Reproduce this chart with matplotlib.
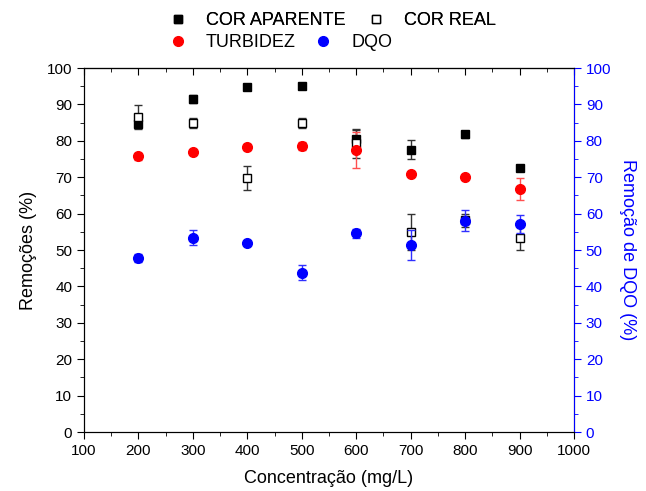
import numpy as np
import matplotlib.pyplot as plt
from matplotlib.ticker import MultipleLocator
from matplotlib.lines import Line2D

plt.rcParams['font.family'] = ['Liberation Sans', 'DejaVu Sans']

# dados
conc = [200, 300, 400, 500, 600, 700, 800, 900]
cor_aparente = [84.6, 91.5, 94.9, 95.0, 80.4, 77.6, 81.8, 72.6]
cor_aparente_err = [1.0, 1.0, 0.3, 0.3, 2.6, 2.7, 1.0, 0.3]
cor_real = [86.5, 84.9, 69.9, 84.9, 79.3, 54.9, 58.2, 53.3]
cor_real_err = [3.3, 1.4, 3.3, 1.4, 4.0, 5.0, 1.8, 3.3]
turbidez = [75.7, 77.0, 78.3, 78.6, 77.5, 70.8, 70.0, 66.8]
turbidez_err = [0.9, 0.3, 0.9, 1.0, 5.0, 0.3, 0.3, 3.0]
dqo = [47.8, 53.4, 51.9, 43.8, 54.6, 51.3, 58.0, 57.2]
dqo_err = [1.0, 2.0, 0.3, 2.0, 1.3, 4.1, 2.9, 2.5]

fig = plt.figure(figsize=(6.46, 4.91), dpi=100)
ax = fig.add_axes([0.130, 0.120, 0.7585, 0.7415])
ax2 = ax.twinx()

ax.errorbar(conc, cor_aparente, yerr=cor_aparente_err, fmt='s', color='black',
            ms=6, capsize=3, elinewidth=1, ecolor='#333333', zorder=3)
ax.errorbar(conc, cor_real, yerr=cor_real_err, fmt='s', mfc='white', mec='black',
            color='black', ms=6, capsize=3, elinewidth=1, ecolor='#333333', zorder=3)
ax.errorbar(conc, turbidez, yerr=turbidez_err, fmt='o', color='red', ms=7,
            capsize=3, elinewidth=1, ecolor='#ff5050', zorder=3)
ax2.errorbar(conc, dqo, yerr=dqo_err, fmt='o', color='blue', ms=7,
             capsize=3, elinewidth=1, ecolor='#3030ff', zorder=3)

ax.set_xlim(100, 1000)
ax.set_ylim(0, 100)
ax2.set_ylim(0, 100)
ax.xaxis.set_major_locator(MultipleLocator(100))
ax.xaxis.set_minor_locator(MultipleLocator(50))
ax.yaxis.set_major_locator(MultipleLocator(10))
ax.yaxis.set_minor_locator(MultipleLocator(5))
ax2.yaxis.set_major_locator(MultipleLocator(10))
ax2.yaxis.set_minor_locator(MultipleLocator(5))

ax.tick_params(axis='both', which='major', direction='out', length=5, labelsize=11)
ax.tick_params(axis='both', which='minor', direction='out', length=3)
ax2.tick_params(axis='y', which='major', direction='out', length=5, colors='blue', labelsize=11)
ax2.tick_params(axis='y', which='minor', direction='out', length=3, colors='blue')
ax2.spines['right'].set_color('blue')

# ticks on top point into the plot
sec = ax.secondary_xaxis('top')
sec.xaxis.set_major_locator(MultipleLocator(100))
sec.xaxis.set_minor_locator(MultipleLocator(50))
sec.tick_params(which='major', direction='in', length=5, labeltop=False)
sec.tick_params(which='minor', direction='in', length=3)

ax.set_xlabel('Concentração (mg/L)', fontsize=13, labelpad=9)
ax.set_ylabel('Remoções (%)', fontsize=13, labelpad=7)
ax2.set_ylabel('Remoção de DQO (%)', fontsize=13, color='blue', rotation=270, labelpad=18)

hs = [Line2D([], [], ls='none', marker='s', color='black', ms=6),
      Line2D([], [], ls='none', marker='s', mfc='white', mec='black', ms=6),
      Line2D([], [], ls='none', marker='o', color='red', ms=7),
      Line2D([], [], ls='none', marker='o', color='blue', ms=7)]

leg1 = fig.legend(hs[:2], ['COR APARENTE', 'COR REAL'], ncol=2, loc='center left',
                  bbox_to_anchor=(0.2616, 0.958), frameon=False, fontsize=13,
                  handlelength=1.0, handletextpad=1.05, columnspacing=1.17,
                  borderaxespad=0, borderpad=0)
fig.legend(hs[2:], ['TURBIDEZ', 'DQO'], ncol=2, loc='center left',
           bbox_to_anchor=(0.2616, 0.913), frameon=False, fontsize=13,
           handlelength=1.0, handletextpad=1.05, columnspacing=1.0,
           borderaxespad=0, borderpad=0)
fig.add_artist(leg1)

fig.savefig('out.png', dpi=100)
